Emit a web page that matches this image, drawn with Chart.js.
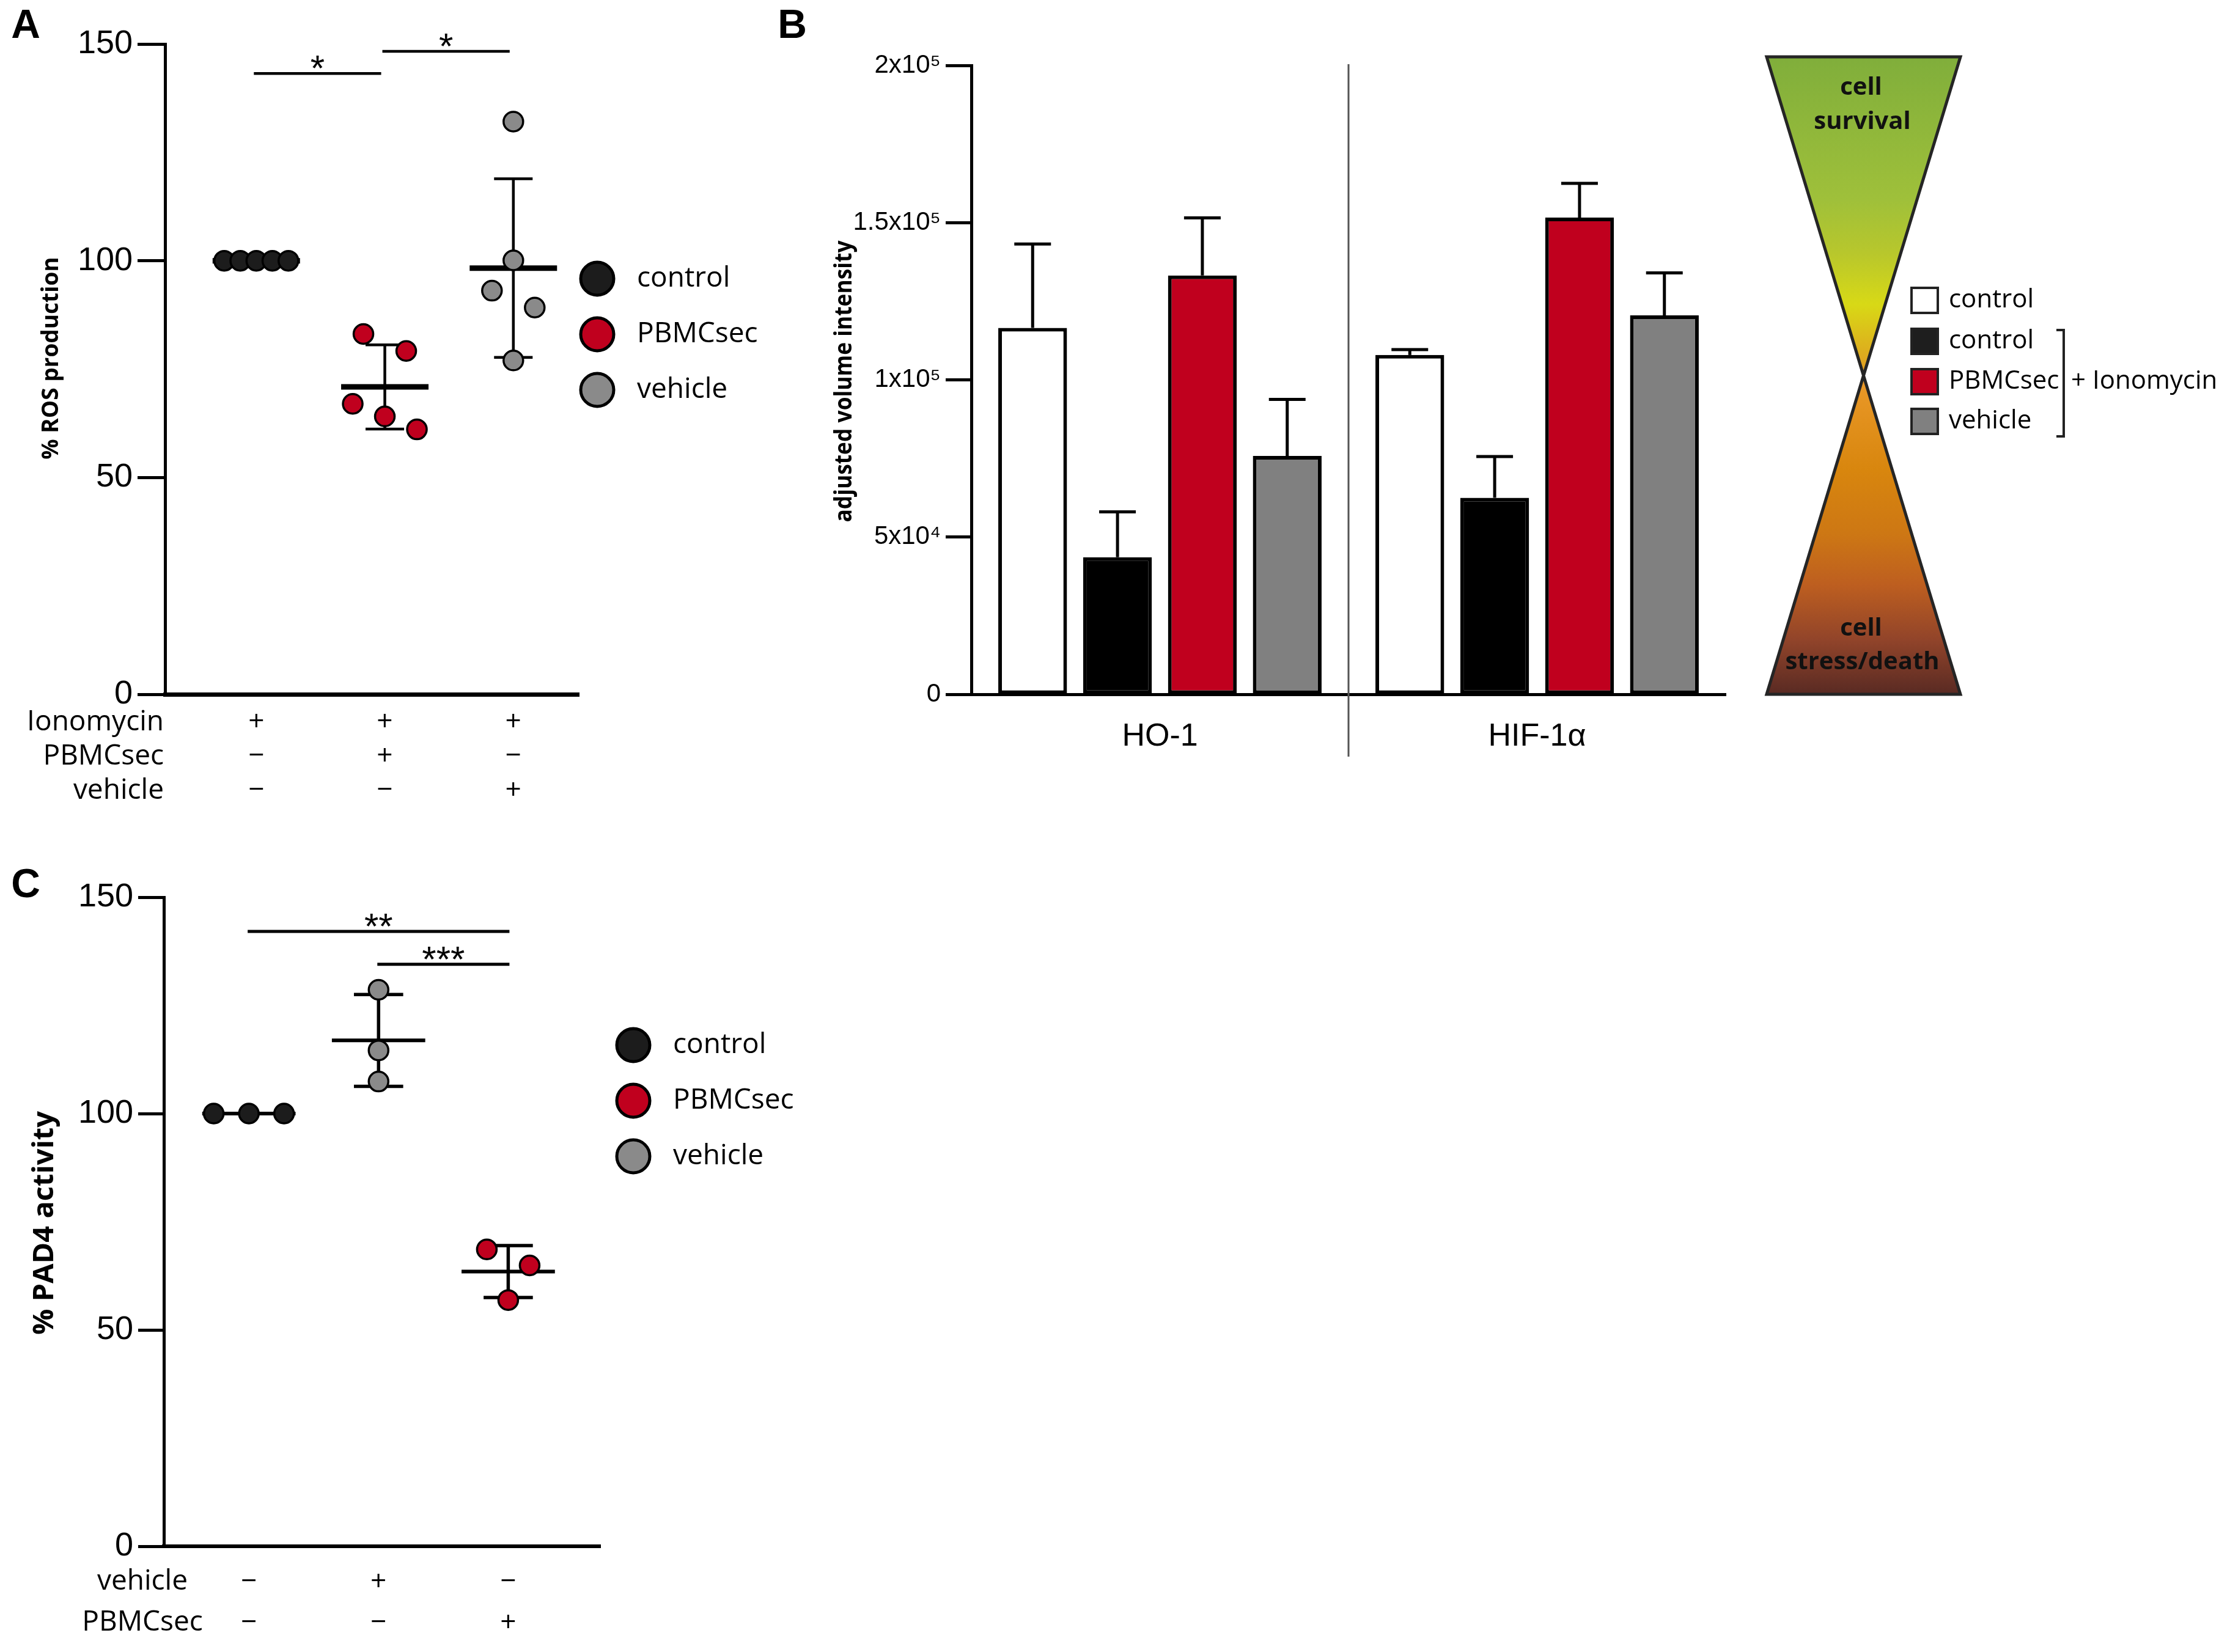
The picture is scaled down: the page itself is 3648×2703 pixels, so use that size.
<!DOCTYPE html>
<html><head><meta charset="utf-8">
<script src="https://cdn.jsdelivr.net/npm/chart.js@4.4.1/dist/chart.umd.min.js"></script>
<style>
html,body{margin:0;padding:0;background:#fff;}
#wrap{position:relative;width:3648px;height:2703px;background:#fff;overflow:hidden;}
canvas{position:absolute;left:0;top:0;}
</style></head><body>
<div id="wrap">
<canvas id="cA" width="3648" height="2703"></canvas>
<canvas id="cB" width="3648" height="2703"></canvas>
<canvas id="cC" width="3648" height="2703"></canvas>
</div>
<script>
// ---------------- DATA ----------------
// Panel A: % ROS production
const rosGroups = ['control', 'PBMCsec', 'vehicle'];
const rosControl = [100, 100, 100, 100, 100];
const rosPBMCsec = [83.1, 79.2, 67.0, 64.1, 61.1];
const rosVehicle = [132.1, 100.1, 93.1, 89.2, 77.0];
const rosMean = [100, 70.9, 98.3];
const rosSD = [0, 9.7, 20.6];
const rosTicks = [0, 50, 100, 150];
const rosRowNames = ['Ionomycin', 'PBMCsec', 'vehicle'];
const rosRowSigns = [['+', '−', '−'], ['+', '+', '−'], ['+', '−', '+']];
const rosSig = [[1, 2, 143.2, '*'], [2, 3, 148.3, '*']];

// Panel B: adjusted volume intensity
const bCategories = ['HO-1', 'HIF-1α'];
const bSeriesNames = ['control', 'control', 'PBMCsec', 'vehicle'];
const bUnstim = [116500, 107900];
const bUnstimErr = [26700, 1700];
const bIono = [43600, 62500];
const bIonoErr = [14400, 13100];
const bPBMC = [133200, 151600];
const bPBMCErr = [18300, 10900];
const bVeh = [75800, 120500];
const bVehErr = [18000, 13500];
const bTickValues = [0, 50000, 100000, 150000, 200000];
const bTickLabels = ['0', '5x10⁴', '1x10⁵', '1.5x10⁵', '2x10⁵'];

// Panel C: % PAD4 activity
const padGroups = ['control', 'vehicle', 'PBMCsec'];
const padControl = [100, 100, 100];
const padVehicle = [128.6, 114.6, 107.4];
const padPBMCsec = [68.6, 64.9, 56.9];
const padMean = [100, 116.9, 63.5];
const padSD = [0, 10.6, 6.0];
const padTicks = [0, 50, 100, 150];
const padRowNames = ['vehicle', 'PBMCsec'];
const padRowSigns = [['−', '−'], ['+', '−'], ['−', '+']];
const padSig = [[1, 3, 142.1, '**'], [2, 3, 134.5, '***']];

// ---------------- STYLE ----------------
const W = 3648, H = 2703;
const COL = { control: '#1c1c1c', PBMCsec: '#c0001e', vehicle: '#8a8a8a' };
const SANS = "'Open Sans', 'Noto Sans', sans-serif";
const ARIAL = "'Liberation Sans', Arial, sans-serif";

function line(ctx, x1, y1, x2, y2) { ctx.beginPath(); ctx.moveTo(x1, y1); ctx.lineTo(x2, y2); ctx.stroke(); }

function meanSdPlugin(means, sds, st) {
  return {
    id: 'meansd',
    beforeDatasetsDraw(chart) {
      const { ctx, scales: { x, y } } = chart;
      const gp = x.getPixelForValue(1) - x.getPixelForValue(0);
      ctx.save(); ctx.strokeStyle = '#000'; ctx.lineCap = 'butt';
      means.forEach((m, i) => {
        const cx = x.getPixelForValue(i + 1);
        const ym = y.getPixelForValue(m);
        ctx.lineWidth = st.meanW;
        line(ctx, cx - st.meanHalf * gp, ym, cx + st.meanHalf * gp, ym);
        if (sds[i] > 0) {
          const yt = y.getPixelForValue(m + sds[i]), yb = y.getPixelForValue(m - sds[i]);
          ctx.lineWidth = st.barW;
          line(ctx, cx, yt, cx, yb);
          line(ctx, cx - st.capHalf * gp, yt, cx + st.capHalf * gp, yt);
          line(ctx, cx - st.capHalf * gp, yb, cx + st.capHalf * gp, yb);
        }
      });
      ctx.restore();
    }
  };
}

function decorPlugin(st) {
  return {
    id: 'decor',
    afterDraw(chart) {
      const { ctx, scales: { x, y } } = chart;
      ctx.save();
      ctx.fillStyle = '#000'; ctx.strokeStyle = '#000';
      ctx.font = "bold 66px " + ARIAL; ctx.textAlign = 'center'; ctx.textBaseline = 'middle';
      ctx.fillText(st.letter, st.letterPos[0], st.letterPos[1]);
      ctx.save();
      ctx.translate(st.yTitlePos[0], st.yTitlePos[1]); ctx.rotate(-Math.PI / 2);
      ctx.font = st.yTitleFont; ctx.textAlign = 'center'; ctx.textBaseline = 'middle';
      ctx.fillText(st.yTitle, 0, 0);
      ctx.restore();
      ctx.font = st.rowFont; ctx.textAlign = st.rowAlign; ctx.textBaseline = 'middle';
      st.rowNames.forEach((n, i) => ctx.fillText(n, st.rowX, st.rowY[i]));
      st.legend.forEach((g, i) => {
        const cy = st.legendY[i];
        ctx.beginPath(); ctx.arc(st.legendX, cy, 27, 0, Math.PI * 2);
        ctx.fillStyle = COL[g]; ctx.fill(); ctx.lineWidth = 5; ctx.strokeStyle = '#000'; ctx.stroke();
        ctx.fillStyle = '#000'; ctx.font = "46px " + SANS; ctx.textAlign = 'left'; ctx.textBaseline = 'middle';
        ctx.fillText(g, st.legendTextX, cy);
      });
      ctx.lineWidth = st.sigW; ctx.strokeStyle = '#000';
      st.sig.forEach(([a, b, v, lab]) => {
        const x1 = x.getPixelForValue(a) + st.sigInset[0], x2 = x.getPixelForValue(b) + st.sigInset[1];
        const yy = y.getPixelForValue(v);
        line(ctx, x1, yy, x2, yy);
        ctx.font = "60px " + ARIAL; ctx.textAlign = 'center'; ctx.textBaseline = 'alphabetic';
        ctx.fillText(lab, (x1 + x2) / 2, yy + 12);
      });
      ctx.restore();
    }
  };
}

function applySwarm(chart, groupVals, diam, maxSpanPx) {
  const ys = chart.scales.y, xs = chart.scales.x;
  const pxY = Math.abs(ys.getPixelForValue(0) - ys.getPixelForValue(1));
  const pxX = Math.abs(xs.getPixelForValue(1) - xs.getPixelForValue(0));
  groupVals.forEach((vals, gi) => {
    const order = vals.map((v, i) => i).sort((a, b) => vals[b] - vals[a]);
    const clusters = []; let cur = [order[0]];
    for (let k = 1; k < order.length; k++) {
      if ((vals[order[k - 1]] - vals[order[k]]) * pxY < diam) cur.push(order[k]);
      else { clusters.push(cur); cur = [order[k]]; }
    }
    clusters.push(cur);
    const offs = vals.map(() => 0);
    clusters.forEach(c => {
      const n = c.length; if (n < 2) return;
      const sp = Math.min(2 * diam, maxSpanPx / (n - 1));
      c.forEach((idx, j) => { offs[idx] = (j - (n - 1) / 2) * sp / pxX; });
    });
    chart.data.datasets[gi].data = vals.map((v, i) => ({ x: gi + 1 + offs[i], y: v }));
  });
  chart.update('none');
}

function dotPlot(id, cfg) {
  const A = cfg.area, YW = 200, XH = 240;
  const chart = new Chart(document.getElementById(id), {
    type: 'scatter',
    data: {
      datasets: cfg.groups.map((g, i) => ({
        label: g,
        data: cfg.values[i].map(v => ({ x: i + 1, y: v })),
        pointRadius: 16, radius: 16,
        pointBorderWidth: 3.5, borderWidth: 3.5,
        pointBackgroundColor: COL[g], backgroundColor: COL[g],
        pointBorderColor: '#000', borderColor: '#000',
        showLine: false, clip: false
      }))
    },
    options: {
      responsive: false, animation: false, devicePixelRatio: 1,
      layout: { padding: { left: A.l - YW, top: A.t, right: W - A.r, bottom: H - A.b - XH } },
      plugins: { legend: { display: false }, tooltip: { enabled: false } },
      scales: {
        x: {
          type: 'linear', min: cfg.xMin, max: cfg.xMax,
          afterBuildTicks: s => { s.ticks = [1, 2, 3].map(v => ({ value: v })); },
          afterFit: s => { s.height = XH; },
          grid: { display: false, drawTicks: false },
          border: { display: true, width: cfg.xAxisW, color: '#000' },
          ticks: {
            autoSkip: false, maxRotation: 0, color: '#000', padding: cfg.rowPad,
            font: { family: SANS, size: cfg.rowFontSize, lineHeight: cfg.rowLH },
            callback: (v) => cfg.signs[Math.round(v) - 1]
          }
        },
        y: {
          min: 0, max: 150,
          afterBuildTicks: s => { s.ticks = cfg.ticks.map(v => ({ value: v })); },
          afterFit: s => { s.width = YW; },
          grid: { drawOnChartArea: false, drawTicks: true, tickLength: cfg.tickLen, tickWidth: 5, tickColor: '#000' },
          border: { display: true, width: 5, color: '#000' },
          ticks: { color: '#000', padding: 8, font: { family: ARIAL, size: cfg.tickFont } }
        }
      }
    },
    plugins: [meanSdPlugin(cfg.mean, cfg.sd, cfg.barStyle), decorPlugin(cfg.decor)]
  });
  applySwarm(chart, cfg.values, 35, cfg.maxSpan);
  return chart;
}

// ---------------- PANEL A ----------------
dotPlot('cA', {
  area: { l: 270, t: 72, r: 947, b: 1136 }, xMin: 0.29, xMax: 3.51,
  groups: rosGroups, values: [rosControl, rosPBMCsec, rosVehicle],
  mean: rosMean, sd: rosSD, ticks: rosTicks, signs: rosRowSigns,
  xAxisW: 7, tickLen: 45, tickFont: 54, rowPad: 18, rowFontSize: 46, rowLH: 1.22, maxSpan: 105,
  barStyle: { meanW: 9, barW: 4.5, meanHalf: 0.34, capHalf: 0.15 },
  decor: {
    letter: 'A', letterPos: [42, 44],
    yTitle: '% ROS production', yTitlePos: [84, 586], yTitleFont: "bold 37px " + SANS,
    rowNames: rosRowNames, rowFont: "46px " + SANS, rowAlign: 'right', rowX: 268, rowY: [1182, 1238, 1294],
    legend: ['control', 'PBMCsec', 'vehicle'], legendX: 977, legendTextX: 1042, legendY: [456, 547, 638],
    sig: rosSig, sigW: 4.5, sigInset: [-4, -6]
  }
});

// ---------------- PANEL C ----------------
dotPlot('cC', {
  area: { l: 268, t: 1468, r: 982, b: 2530 }, xMin: 0.344, xMax: 3.71,
  groups: padGroups, values: [padControl, padVehicle, padPBMCsec],
  mean: padMean, sd: padSD, ticks: padTicks, signs: padRowSigns,
  xAxisW: 6, tickLen: 42, tickFont: 54, rowPad: 25, rowFontSize: 46, rowLH: 1.46, maxSpan: 115,
  barStyle: { meanW: 6, barW: 5.5, meanHalf: 0.36, capHalf: 0.19 },
  decor: {
    letter: 'C', letterPos: [42, 1450],
    yTitle: '% PAD4 activity', yTitlePos: [74, 2001], yTitleFont: "bold 47px " + SANS,
    rowNames: padRowNames, rowFont: "46px " + SANS, rowAlign: 'center', rowX: 233, rowY: [2588, 2655],
    legend: ['control', 'PBMCsec', 'vehicle'], legendX: 1036, legendTextX: 1101, legendY: [1710, 1801, 1892],
    sig: padSig, sigW: 5, sigInset: [-2, 2]
  }
});

// ---------------- PANEL B ----------------
(function () {
  const A = { l: 1589, t: 107, r: 2823, b: 1136 }, YW = 200, XH = 120;
  const fills = ['#ffffff', '#000000', '#c0001e', '#808080'];
  const vals = [bUnstim, bIono, bPBMC, bVeh];
  const errs = [bUnstimErr, bIonoErr, bPBMCErr, bVehErr];
  const errPlugin = {
    id: 'errB',
    afterDatasetsDraw(chart) {
      const { ctx, scales: { y } } = chart;
      ctx.save(); ctx.strokeStyle = '#000'; ctx.lineWidth = 5;
      vals.forEach((arr, i) => {
        const meta = chart.getDatasetMeta(i);
        arr.forEach((v, j) => {
          const bar = meta.data[j];
          const yt = y.getPixelForValue(v), ye = y.getPixelForValue(v + errs[i][j]);
          line(ctx, bar.x, yt, bar.x, ye);
          line(ctx, bar.x - 30, ye, bar.x + 30, ye);
        });
      });
      ctx.restore();
    }
  };
  const decorB = {
    id: 'decorB',
    afterDraw(chart) {
      const { ctx, scales: { x } } = chart;
      ctx.save();
      ctx.fillStyle = '#000';
      ctx.font = "bold 66px " + ARIAL; ctx.textAlign = 'center'; ctx.textBaseline = 'middle';
      ctx.fillText('B', 1296, 44);
      const xd = x.getPixelForValue(0.5);
      ctx.strokeStyle = '#555'; ctx.lineWidth = 3;
      line(ctx, xd, 105, xd, 1238);
      ctx.save();
      ctx.translate(1382, 624); ctx.rotate(-Math.PI / 2);
      ctx.font = "bold 40px " + SANS; ctx.textAlign = 'center'; ctx.textBaseline = 'middle';
      const t = 'adjusted volume intensity';
      const tw = ctx.measureText(t).width;
      ctx.scale(461 / tw, 1);
      ctx.fillText(t, 0, 0);
      ctx.restore();
      const L = 2890, R = 3207, T = 93, B = 1136, CX = 3048.5, CY = 612;
      const g1 = ctx.createLinearGradient(0, T, 0, CY);
      g1.addColorStop(0, '#80ae3b'); g1.addColorStop(0.45, '#9fc03a'); g1.addColorStop(0.62, '#b8c72c');
      g1.addColorStop(0.78, '#d8d916'); g1.addColorStop(0.92, '#ddb11d'); g1.addColorStop(1, '#e39a22');
      ctx.beginPath(); ctx.moveTo(L, T); ctx.lineTo(R, T); ctx.lineTo(CX, CY); ctx.closePath();
      ctx.fillStyle = g1; ctx.fill();
      const g2 = ctx.createLinearGradient(0, CY, 0, B);
      g2.addColorStop(0, '#eb9a2a'); g2.addColorStop(0.3, '#d8860e'); g2.addColorStop(0.5, '#cd7714');
      g2.addColorStop(0.66, '#bd5e20'); g2.addColorStop(0.83, '#91442a'); g2.addColorStop(1, '#592a23');
      ctx.beginPath(); ctx.moveTo(CX, CY); ctx.lineTo(R, B); ctx.lineTo(L, B); ctx.closePath();
      ctx.fillStyle = g2; ctx.fill();
      ctx.strokeStyle = '#252525'; ctx.lineWidth = 5; ctx.lineJoin = 'miter';
      ctx.beginPath(); ctx.moveTo(L, T); ctx.lineTo(R, T); ctx.lineTo(L, B); ctx.lineTo(R, B); ctx.closePath(); ctx.stroke();
      ctx.fillStyle = '#111'; ctx.font = "bold 40px " + SANS; ctx.textAlign = 'center'; ctx.textBaseline = 'middle';
      ctx.fillText('cell', CX - 4, 144); ctx.fillText('survival', CX - 2, 200);
      ctx.fillText('cell', CX - 4, 1029); ctx.fillText('stress/death', CX - 2, 1084);
      const ly = [491, 558, 624, 689];
      bSeriesNames.forEach((n, i) => {
        ctx.fillStyle = fills[i] === '#000000' ? '#1e1e1e' : fills[i];
        ctx.fillRect(3125, ly[i] - 22, 47, 45);
        ctx.strokeStyle = '#222'; ctx.lineWidth = 4; ctx.strokeRect(3127, ly[i] - 20, 43, 41);
        ctx.fillStyle = '#000'; ctx.font = "42px " + SANS; ctx.textAlign = 'left'; ctx.textBaseline = 'middle';
        ctx.fillText(n, 3188, ly[i]);
      });
      ctx.strokeStyle = '#222'; ctx.lineWidth = 4;
      ctx.beginPath(); ctx.moveTo(3364, 540); ctx.lineTo(3376, 540); ctx.lineTo(3376, 714); ctx.lineTo(3364, 714); ctx.stroke();
      ctx.fillStyle = '#000'; ctx.font = "42px " + SANS; ctx.textAlign = 'left';
      ctx.fillText('+ Ionomycin', 3388, 624);
      ctx.restore();
    }
  };
  new Chart(document.getElementById('cB'), {
    type: 'bar',
    data: {
      labels: bCategories,
      datasets: vals.map((arr, i) => ({
        label: bSeriesNames[i], data: arr, backgroundColor: fills[i],
        borderColor: '#000', borderWidth: 6, borderSkipped: false,
        categoryPercentage: 0.9, barPercentage: 0.81
      }))
    },
    options: {
      responsive: false, animation: false, devicePixelRatio: 1,
      layout: { padding: { left: A.l - YW, top: A.t, right: W - A.r, bottom: H - A.b - XH } },
      plugins: { legend: { display: false }, tooltip: { enabled: false } },
      scales: {
        x: {
          afterFit: s => { s.height = XH; },
          grid: { display: false, drawTicks: false },
          border: { display: true, width: 5, color: '#000' },
          ticks: { color: '#000', padding: 38, font: { family: ARIAL, size: 52 } }
        },
        y: {
          min: 0, max: 200000,
          afterBuildTicks: s => { s.ticks = bTickValues.map(v => ({ value: v })); },
          afterFit: s => { s.width = YW; },
          grid: { drawOnChartArea: false, drawTicks: true, tickLength: 42, tickWidth: 5, tickColor: '#000' },
          border: { display: true, width: 5, color: '#000' },
          ticks: { color: '#000', padding: 8, font: { family: ARIAL, size: 42 }, callback: (v, i) => bTickLabels[i] }
        }
      }
    },
    plugins: [errPlugin, decorB]
  });
})();
</script>
</body></html>
